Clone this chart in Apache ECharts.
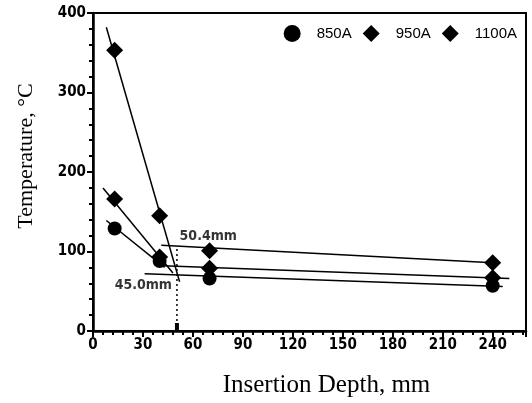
<!DOCTYPE html>
<html>
<head>
<meta charset="utf-8">
<script src="https://cdn.jsdelivr.net/npm/echarts@6/dist/echarts.min.js"></script>
<style>
html, body { margin: 0; padding: 0; background: #fff; }
#chart { width: 532px; height: 403px; }
</style>
</head>
<body>
<div id="chart"></div>
<script>
// measured points: [depth mm, temperature C]
var pts850 = [[13, 129], [40, 88], [70, 66], [240, 57]];
var pts950 = [[13, 166], [40, 93], [70, 79], [240, 67]];
var pts1100 = [[13, 353], [40, 145], [70, 101], [240, 86]];

// fitted lines (end points)
var fit850a = [[8, 139], [43, 80]];
var fit850b = [[31, 72], [246, 56]];
var fit950a = [[6, 180], [48, 73]];
var fit950b = [[42, 82], [250, 66]];
var fit1100a = [[8, 382], [52, 62]];
var fit1100b = [[41, 108], [240, 86]];

// intersection marker and notes
var cross = [[50.4, 103], [50.4, 0]];
var crossFoot = [[50.4, 5]];
var notes = [[52, 119, '50.4mm'], [13, 57, '45.0mm']];

var xTicks = [0, 260, 30];
var yTicks = [0, 400, 100];

var tickFont = { color: '#000', fontSize: 15, fontWeight: 'bold', fontFamily: 'DejaVu Sans Condensed' };

var fitLine = function(d) {
	return {
		type: 'line', data: d, symbol: 'none', silent: true,
		lineStyle: { color: '#000', width: 1.5 }, z: 3
	};
};

var myChart = echarts.init(document.getElementById('chart'));
var option = {
	animation: false,
	backgroundColor: '#fff',
	grid: {
		left: 93, right: 6, top: 13, bottom: 67,
		show: true, borderColor: '#000', borderWidth: 2
	},
	legend: {
		top: 20, right: 10,
		itemGap: 11, itemWidth: 17, itemHeight: 17,
		textStyle: { color: '#000', fontSize: 15, fontFamily: 'Liberation Sans', padding: [0, 0, 0, 11] },
		data: [
			{ name: '850A', icon: 'circle' },
			{ name: '950A', icon: 'diamond' },
			{ name: '1100A', icon: 'diamond' }
		]
	},
	xAxis: {
		type: 'value', min: xTicks[0], max: xTicks[1], interval: xTicks[2],
		name: 'Insertion Depth, mm', nameLocation: 'middle', nameGap: 42,
		nameTextStyle: { color: '#000', fontSize: 25, fontFamily: 'Liberation Serif', padding: [0, 0, 0, 34] },
		axisLine: { lineStyle: { color: '#000', width: 2.5 } },
		axisTick: { length: 6, lineStyle: { color: '#000', width: 2 } },
		minorTick: { show: true, splitNumber: 5, length: 4, lineStyle: { color: '#000', width: 2 } },
		splitLine: { show: false },
		axisLabel: Object.assign({ margin: 7, showMaxLabel: false }, tickFont)
	},
	yAxis: {
		type: 'value', min: yTicks[0], max: yTicks[1], interval: yTicks[2],
		name: 'Temperature, \u00b0C', nameLocation: 'middle', nameGap: 56,
		nameTextStyle: { color: '#000', fontSize: 22, fontFamily: 'Liberation Serif', padding: [0, 0, 0, 32] },
		axisLine: { show: true, lineStyle: { color: '#000', width: 2.5 } },
		axisTick: { show: true, length: 6, lineStyle: { color: '#000', width: 2 } },
		minorTick: { show: true, splitNumber: 5, length: 4, lineStyle: { color: '#000', width: 2 } },
		splitLine: { show: false },
		axisLabel: Object.assign({ margin: 7 }, tickFont)
	},
	series: [
		fitLine(fit850a), fitLine(fit850b),
		fitLine(fit950a), fitLine(fit950b),
		fitLine(fit1100a), fitLine(fit1100b),
		{
			type: 'line', data: cross, symbol: 'none', silent: true,
			lineStyle: { color: '#000', width: 1.5, type: [2, 3] }, z: 3
		},
		{
			type: 'scatter', data: crossFoot, symbol: 'rect', symbolSize: [4, 8], silent: true,
			itemStyle: { color: '#000', opacity: 1 }, z: 3
		},
		{
			name: '850A', type: 'scatter', data: pts850, symbol: 'circle', symbolSize: 14,
			itemStyle: { color: '#000', opacity: 1 }, z: 5
		},
		{
			name: '950A', type: 'scatter', data: pts950, symbol: 'diamond', symbolSize: 17,
			itemStyle: { color: '#000', opacity: 1 }, z: 5
		},
		{
			name: '1100A', type: 'scatter', data: pts1100, symbol: 'diamond', symbolSize: 17,
			itemStyle: { color: '#000', opacity: 1 }, z: 5
		},
		{
			type: 'scatter', data: notes, symbolSize: 0, silent: true,
			label: {
				show: true, position: 'right', distance: 0,
				formatter: function(p) { return p.data[2]; },
				color: '#000', fontSize: 14, fontWeight: 'bold',
				fontFamily: 'DejaVu Sans Condensed'
			}
		}
	]
};
myChart.setOption(option);
</script>
</body>
</html>
